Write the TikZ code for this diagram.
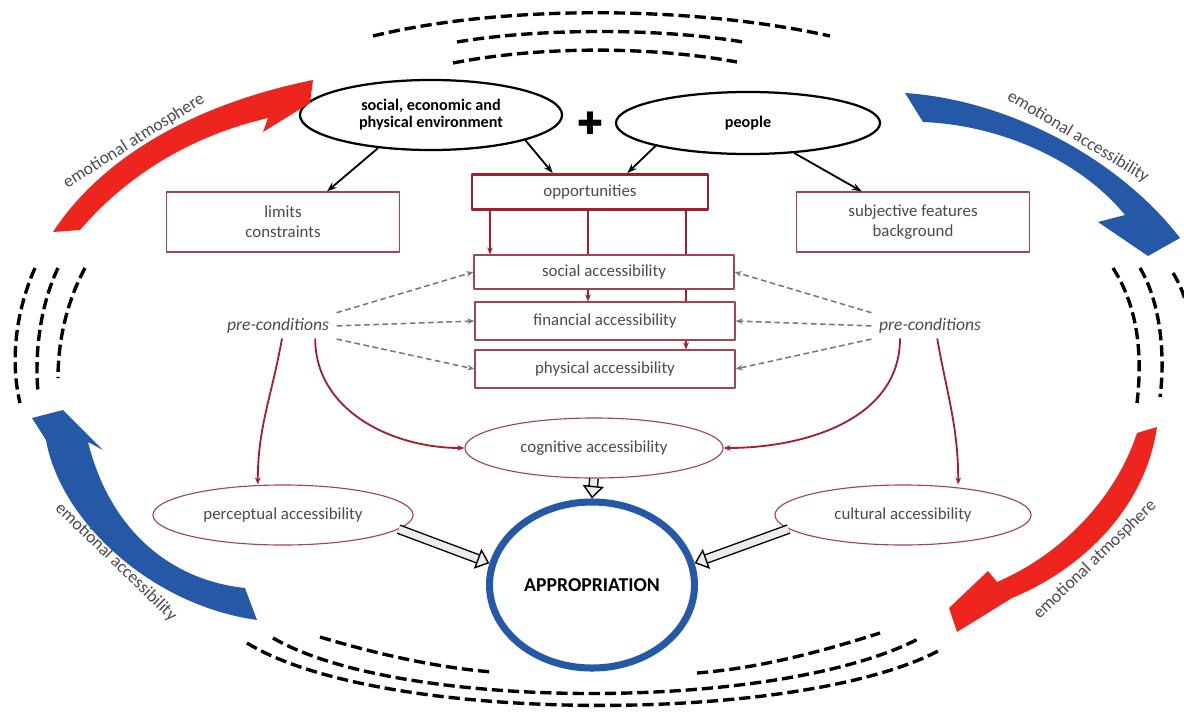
\documentclass[tikz,border=0pt]{standalone}
\usepackage{fontspec}
\setmainfont{Carlito}
\newfontfamily\symfont{DejaVu Sans}
\usetikzlibrary{shapes.geometric,arrows.meta}
\definecolor{conred}{RGB}{165,30,45}
\definecolor{boxred}{RGB}{160,70,80}
\definecolor{emored}{RGB}{238,36,30}
\definecolor{emoblue}{RGB}{38,88,168}
\definecolor{txtgray}{RGB}{75,75,75}
\definecolor{dashgray}{RGB}{120,120,120}
\begin{document}
\begin{tikzpicture}[x=0.025cm, y=-0.025cm, line join=round,
  box node/.style={rectangle,draw=boxred,fill=white,line width=0.8pt,text=txtgray,minimum width=5.83cm,minimum height=1.5cm,align=center,inner sep=2pt},
  acc node/.style={box node,minimum width=6.5cm,minimum height=0.95cm},
  oval node/.style={ellipse,draw=boxred,fill=white,line width=0.8pt,text=txtgray,minimum width=6.5cm,minimum height=1.5cm,inner sep=0pt},
  top node/.style={ellipse,draw=black,line width=1.6pt,font=\bfseries\fontsize{11.5}{12}\selectfont,align=center,inner sep=0pt},
  pre node/.style={font=\itshape\fontsize{12.5}{14}\selectfont,text=txtgray},
  emo text/.style={font=\fontsize{12.5}{14}\selectfont,text=txtgray},
  black arrow/.style={-{Stealth[length=7pt,width=5pt]},line width=1.3pt},
  red arrow/.style={-{Stealth[length=5pt,width=4pt]},conred,line width=1.3pt},
  red line/.style={conred,line width=1.3pt},
  dash arrow/.style={-{Stealth[length=5pt,width=4pt]},dashgray,line width=1.1pt,dash pattern=on 4pt off 2.5pt,shorten <=2pt},
  hollow arrow/.style={-{Triangle[length=9pt,width=15pt,fill=gray!15,line width=1pt]},double=gray!15,double distance=5pt,line width=1pt},
  big dash/.style={line width=2.4pt,dash pattern=on 8pt off 3.5pt}]
\useasboundingbox (0,0) rectangle (1184,718);
\begin{scope}[every node/.style={font=\fontsize{12}{14}\selectfont}]
\node[top node,minimum width=6.55cm,minimum height=1.75cm] (env) at (431,115) {social, economic and\\physical environment};
\node[font=\symfont\fontsize{22}{22}\selectfont] (plus) at (590,123) {✚};
\node[top node,minimum width=6.6cm,minimum height=1.55cm] (people) at (748,123) {people};
\node[box node] (limits) at (283,222) {limits\\constraints};
\node[box node,draw=conred,line width=1.8pt,minimum width=5.9cm,minimum height=0.88cm] (opp) at (590,192) {opportunities};
\node[box node] (subj) at (913,222) {subjective features\\background};
\node[acc node,minimum height=0.85cm] (social) at (604,272) {social accessibility};
\node[acc node] (financ) at (605,321) {financial accessibility};
\node[acc node] (physic) at (605,369) {physical accessibility};
\node[pre node] (prel) at (278,326) {pre-conditions};
\node[pre node] (prer) at (930,326) {pre-conditions};
\node[oval node,minimum width=6.45cm] (cogn) at (594,448) {cognitive accessibility};
\node[oval node] (percep) at (283,515) {perceptual accessibility};
\node[oval node,minimum width=6.4cm] (cult) at (903,515) {cultural accessibility};
\node[ellipse,draw=emoblue,line width=5pt,minimum width=5cm,minimum height=4.15cm,font=\bfseries\fontsize{14}{16}\selectfont] (approp) at (592,585) {APPROPRIATION};
\node[emo text,rotate=32] (atmo1) at (134,141) {emotional atmosphere};
\node[emo text,rotate=-31] (acc1) at (1078,137) {emotional accessibility};
\node[emo text,rotate=-44] (acc2) at (116,562) {emotional accessibility};
\node[emo text,rotate=44] (atmo2) at (1095,560) {emotional atmosphere};
\end{scope}
\coordinate (o1) at ([xshift=-2.5cm]opp.south);
\coordinate (o2) at ([xshift=-0.05cm]opp.south);
\coordinate (o3) at ([xshift=2.4cm]opp.south);
\begin{scope}
\draw[black arrow] (env.212) -- ([xshift=1.1cm]limits.north);
\draw[black arrow] (env.-15) -- ([xshift=-0.93cm]opp.north);
\draw[black arrow] (people.194) -- ([xshift=0.93cm]opp.north);
\draw[black arrow] (people.-33) -- ([xshift=-1.28cm]subj.north);
\draw[red arrow] (o1) -- (o1 |- social.north);
\draw[red line] (o2) -- (o2 |- social.north);
\draw[red arrow] (o2 |- social.south) -- (o2 |- financ.north);
\draw[red line] (o3) -- (o3 |- social.north);
\draw[red line] (o3 |- social.south) -- (o3 |- financ.north);
\draw[red arrow] (o3 |- financ.south) -- (o3 |- physic.north);
\draw[dash arrow] (prel.north east) -- (social.west);
\draw[dash arrow] (prel.east) -- (financ.west);
\draw[dash arrow] (prel.south east) -- (physic.west);
\draw[dash arrow] (prer.north west) -- (social.east);
\draw[dash arrow] (prer.west) -- (financ.east);
\draw[dash arrow] (prer.south west) -- (physic.east);
\draw[red arrow] ([xshift=0.1cm]prel.south) to[out=-100,in=90] ([xshift=-0.63cm]percep.north);
\draw[red arrow] ([xshift=0.93cm]prel.south) to[out=-90,in=180] (cogn.west);
\draw[red arrow] ([xshift=-0.75cm]prer.south) to[out=-90,in=0] (cogn.east);
\draw[red arrow] ([xshift=0.18cm]prer.south) to[out=-80,in=90] ([xshift=1.38cm]cult.north);
\draw[hollow arrow] (cogn.south) -- (approp.north);
\draw[hollow arrow] (percep.-7) -- (approp.168);
\draw[hollow arrow] (cult.187) -- (approp.12);
\end{scope}
% big curved arrows
\fill[emored] (53,232) .. controls (100,160) and (190,105) .. (313,80) -- (310,103) -- (263,132) -- (268,118) .. controls (195,135) and (130,172) .. (80,230) -- cycle;
\fill[emoblue] (905,93) .. controls (1010,100) and (1120,160) .. (1180,238) -- (1148,256) -- (1098,222) -- (1125,215) .. controls (1080,160) and (1000,125) .. (923,122) -- cycle;
\fill[emoblue] (32,418) -- (63,410) -- (103,450) -- (88,442) .. controls (110,530) and (170,580) .. (245,588) -- (257,620) .. controls (150,605) and (60,520) .. (46,440) -- cycle;
\fill[emored] (1137,433) -- (1157,427) .. controls (1145,510) and (1080,570) .. (1012,598) -- (957,632) -- (949,608) -- (988,571) -- (997,582) .. controls (1060,555) and (1115,500) .. (1137,433) -- cycle;
% dashed arcs
\draw[big dash] (373,36) .. controls (500,5) and (690,5) .. (830,36);
\draw[big dash] (457,42) .. controls (540,28) and (660,28) .. (743,42);
\draw[big dash] (453,63) .. controls (540,46) and (650,46) .. (737,62);
\draw[big dash] (35,268) .. controls (12,320) and (12,370) .. (20,403);
\draw[big dash] (58,268) .. controls (38,310) and (35,360) .. (38,392);
\draw[big dash] (85,268) .. controls (65,305) and (58,345) .. (58,378);
\draw[big dash] (1113,268) .. controls (1140,310) and (1142,360) .. (1137,403);
\draw[big dash] (1140,268) .. controls (1162,305) and (1165,360) .. (1160,397);
\draw[big dash] (1173,273) .. controls (1190,300) and (1192,330) .. (1188,360);
\draw[big dash] (320,637) .. controls (380,655) and (440,668) .. (493,672);
\draw[big dash] (697,673) .. controls (760,668) and (820,652) .. (880,633);
\draw[big dash] (273,638) .. controls (400,712) and (780,712) .. (920,638);
\draw[big dash] (247,643) .. controls (380,725) and (800,725) .. (940,650);
\end{tikzpicture}
\end{document}
